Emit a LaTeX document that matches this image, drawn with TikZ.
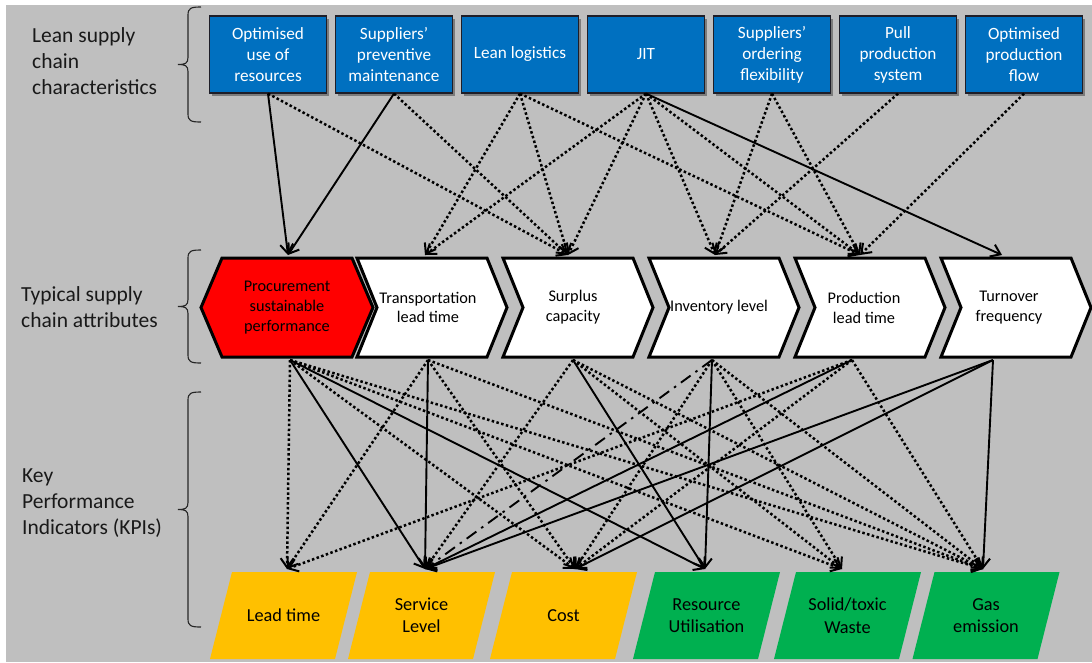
\documentclass[tikz,border=0pt]{standalone}
\usepackage{fontspec}
\setmainfont{Carlito}
\usetikzlibrary{arrows.meta,calc,shadows}
\pgfdeclarelayer{back}
\pgfsetlayers{back,main}

\definecolor{pagegray}{RGB}{191,191,191}
\definecolor{leanblue}{RGB}{0,112,192}
\definecolor{kpiyellow}{RGB}{255,192,0}
\definecolor{kpigreen}{RGB}{0,176,80}
\definecolor{procred}{RGB}{255,0,0}
\definecolor{boxedge}{RGB}{30,30,40}

\tikzset{
  lean/.style={draw=boxedge, line width=1.2pt, fill=leanblue, text=white,
    minimum width=117pt, minimum height=77pt, inner sep=1pt, align=center,
    font=\fontsize{17.2}{21}\selectfont,
    drop shadow={shadow xshift=2pt, shadow yshift=-2.5pt, opacity=0.35, fill=black}},
  attr/.style={minimum width=150pt, minimum height=99pt, inner sep=0pt,
    align=center, text=black, font=\fontsize{16.3}{19.8}\selectfont},
  attredge/.style={draw=black, line width=3pt, line join=miter},
  kpi/.style={minimum width=147pt, minimum height=87pt, inner sep=0pt,
    align=center, text=black, font=\fontsize{18.3}{22.5}\selectfont},
  side/.style={anchor=west, align=left, inner sep=0pt, text=black!90,
    font=\fontsize{21.5}{26}\selectfont},
  link/.style={draw=black, line width=1.9pt,
    -{Straight Barb[length=9pt,width=13pt,line width=2pt]}},
  solidlink/.style={link},
  dotlink/.style={link, line width=2.5pt, dash pattern=on 2.5pt off 2.4pt},
  dashdotlink/.style={link, dash pattern=on 12pt off 6pt on 2.5pt off 6pt},
  bracket/.style={draw=black!85, line width=1.1pt},
}

% curly bracket on the left: top y, middle y, bottom y
\newcommand{\sidebrace}[3]{%
  \draw[bracket] (201,#1) .. controls (191,#1) and (188,{#1+1}) .. (188,{#1+8})
    -- (188,{#2-7}) .. controls (188,{#2-1}) and (185,#2) .. (178,#2)
    .. controls (185,#2) and (188,{#2+1}) .. (188,{#2+7})
    -- (188,{#3-8}) .. controls (188,{#3-1}) and (191,#3) .. (201,#3);}

\begin{document}
\begin{tikzpicture}[x=1pt,y=-1pt]
\useasboundingbox (0,0) rectangle (1092,662);
\begin{pgfonlayer}{back}
  \fill[white] (0,0) rectangle (1092,662);
  \fill[pagegray] (6,5) rectangle (1092,662);
\end{pgfonlayer}

% row labels and brackets
\node[side] (lab1) at (32,61) {Lean supply\\chain\\characteristics};
\node[side] (lab2) at (21,307.5) {Typical supply\\chain attributes};
\node[side] (lab3) at (22,503) {Key\\Performance\\Indicators (KPIs)};
\sidebrace{7}{64.5}{122}
\sidebrace{250}{306.5}{363}
\sidebrace{392}{509.5}{627}

% lean characteristics
\node[lean] (t1) at (268,54.5) {Optimised\\use of\\resources};
\node[lean] (t2) at (394,54.5) {Suppliers’\\preventive\\maintenance};
\node[lean] (t3) at (520,54.5) {Lean logistics};
\node[lean] (t4) at (646,54.5) {JIT};
\node[lean] (t5) at (772,54.5) {Suppliers’\\ordering\\flexibility};
\node[lean] (t6) at (898,54.5) {Pull\\production\\system};
\node[lean] (t7) at (1024,54.5) {Optimised\\production\\flow};

% supply chain attributes
\node[attr] (c1) at (287,307.5) {Procurement\\sustainable\\performance};
\node[attr] (c2) at (428,307.5) {Transportation\\lead time};
\node[attr] (c3) at (573,307.5) {Surplus\\capacity};
\node[attr] (c4) at (719,307.5) {Inventory level};
\node[attr] (c5) at (864,307.5) {Production\\lead time};
\node[attr] (c6) at (1009,307.5) {Turnover\\frequency};

% KPIs
\node[kpi] (k1) at (283.5,615.5) {Lead time};
\node[kpi] (k2) at (421.5,615.5) {Service\\Level};
\node[kpi] (k3) at (563.5,615.5) {Cost};
\node[kpi] (k4) at (706.5,615.5) {Resource\\Utilisation};
\node[kpi] (k5) at (847.5,615.5) {Solid/toxic\\Waste};
\node[kpi] (k6) at (986,615.5) {Gas\\emission};

% shapes behind the texts
\begin{pgfonlayer}{back}
  \draw[attredge, fill=procred] ($(c1.center)+(-86,0)$) -- ($(c1.center)+(-65,-49.5)$)
    -- ($(c1.center)+(65,-49.5)$) -- ($(c1.center)+(86,0)$)
    -- ($(c1.center)+(65,49.5)$) -- ($(c1.center)+(-65,49.5)$) -- cycle;
  \foreach \c/\dx in {c2/-1,c3/0,c4/0,c5/1,c6/2}
    \draw[attredge, fill=white] ($(\c.center)+(-70+\dx,-49.5)$) -- ($(\c.center)+(60+\dx,-49.5)$)
      -- ($(\c.center)+(80+\dx,0)$) -- ($(\c.center)+(60+\dx,49.5)$)
      -- ($(\c.center)+(-70+\dx,49.5)$) -- ($(\c.center)+(-50+\dx,0)$) -- cycle;
  \foreach \k/\col in {k1/kpiyellow,k2/kpiyellow,k3/kpiyellow,k4/kpigreen,k5/kpigreen,k6/kpigreen}
    \fill[\col] ($(\k.center)+(-51.5,-43.5)$) -- ($(\k.center)+(73.5,-43.5)$)
      -- ($(\k.center)+(51.5,43.5)$) -- ($(\k.center)+(-73.5,43.5)$) -- cycle;
\end{pgfonlayer}

% connection points on the attribute and KPI shapes
\foreach \c/\dt/\db in {c1/1/3, c2/-3/0, c3/-5/0, c4/-4/-7, c5/-4/-12, c6/-7/-16} {
  \coordinate (\c-t) at ($(\c.center)+(\dt,-52.5)$);
  \coordinate (\c-b) at ($(\c.center)+(\db,52.5)$);
}
\foreach \k/\dx in {k1/3.5, k2/3.5, k3/11.5, k4/-1.5, k5/-5.5, k6/-3}
  \coordinate (\k-t) at ($(\k.center)+(\dx,-46.5)$);

% characteristics -> attributes
\foreach \s/\e/\st in {
    t1/c1/solidlink, t1/c3/dotlink,
    t2/c1/solidlink, t2/c3/dotlink,
    t3/c2/dotlink, t3/c3/dotlink, t3/c5/dotlink,
    t4/c2/dotlink, t4/c3/dotlink, t4/c4/dotlink, t4/c5/dotlink, t4/c6/solidlink,
    t5/c4/dotlink, t5/c5/dotlink,
    t6/c4/dotlink,
    t7/c5/dotlink}
  \draw[\st] (\s.south) -- (\e-t);

% attributes -> KPIs
\foreach \s/\e/\st in {
    c1/k1/dotlink, c1/k2/solidlink, c1/k3/dotlink, c1/k4/solidlink, c1/k5/dotlink, c1/k6/dotlink,
    c2/k1/dotlink, c2/k2/solidlink, c2/k3/dotlink, c2/k6/dotlink,
    c3/k2/dotlink, c3/k4/solidlink, c3/k5/dotlink, c3/k6/dotlink,
    c4/k2/dashdotlink, c4/k3/dotlink, c4/k4/solidlink, c4/k5/dotlink, c4/k6/dotlink,
    c5/k1/dotlink, c5/k2/solidlink, c5/k3/dotlink, c5/k6/dotlink,
    c6/k2/solidlink, c6/k3/solidlink, c6/k6/solidlink}
  \draw[\st] (\s-b) -- (\e-t);
\end{tikzpicture}
\end{document}
